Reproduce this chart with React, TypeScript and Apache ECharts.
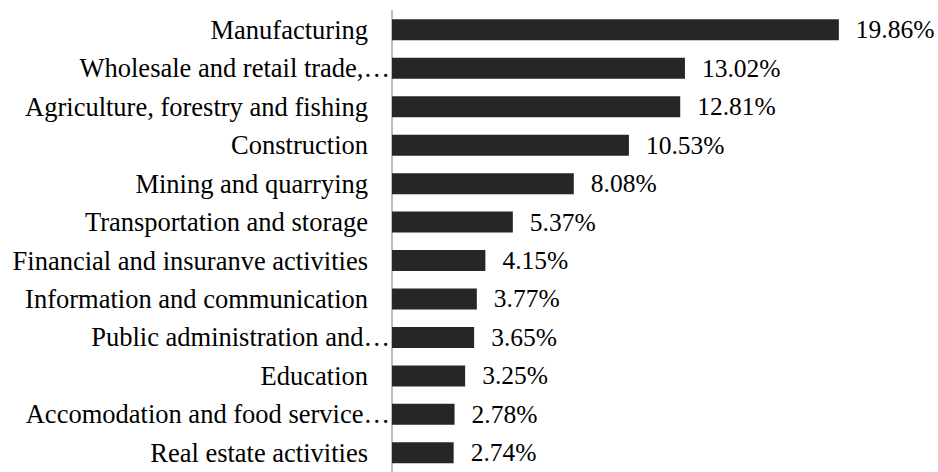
import React, { useEffect, useRef } from "react";
import * as echarts from "echarts";

const categories = [
  "Manufacturing",
  "Wholesale and retail trade,…",
  "Agriculture, forestry and fishing",
  "Construction",
  "Mining and quarrying",
  "Transportation and storage",
  "Financial and insuranve activities",
  "Information and communication",
  "Public administration and…",
  "Education",
  "Accomodation and food service…",
  "Real estate activities",
];

const shares = [19.86, 13.02, 12.81, 10.53, 8.08, 5.37, 4.15, 3.77, 3.65, 3.25, 2.78, 2.74];

const FONT = "Liberation Serif, Times New Roman, serif";

export default function App() {
  const ref = useRef<HTMLDivElement>(null);
  useEffect(() => {
    if (!ref.current) return;
    const chart = echarts.init(ref.current, null, { renderer: "svg" });
    chart.setOption({
      animation: false,
      grid: { left: 392, right: 6, top: 10.6, bottom: -4, containLabel: false },
      xAxis: {
        type: "value",
        min: 0,
        max: 24,
        show: false,
      },
      yAxis: {
        type: "category",
        data: categories,
        inverse: true,
        axisLine: { show: true, lineStyle: { color: "#a6a6a6", width: 1.5 } },
        axisTick: { show: false },
        axisLabel: {
          margin: 2,
          color: "#000",
          fontFamily: FONT,
          fontSize: 26.5,
          formatter: (v: string) => (v.endsWith("…") ? `{t|${v}}` : `{n|${v}}`),
          rich: {
            n: { padding: [0, 22, 0, 0], fontFamily: FONT, fontSize: 26.5, color: "#000" },
            t: { fontFamily: FONT, fontSize: 26.5, color: "#000" },
          },
        },
      },
      series: [
        {
          type: "bar",
          data: shares,
          barWidth: 21,
          itemStyle: { color: "#262626" },
          label: {
            show: true,
            position: "right",
            distance: 17,
            color: "#000",
            fontFamily: FONT,
            fontSize: 25.5,
            formatter: (p: any) => `${p.value.toFixed(2)}%`,
          },
        },
      ],
    });
    return () => chart.dispose();
  }, []);
  return (
    <div
      ref={ref}
      style={{ position: "fixed", left: 0, top: 0, width: 938, height: 472, background: "#fff" }}
    />
  );
}
